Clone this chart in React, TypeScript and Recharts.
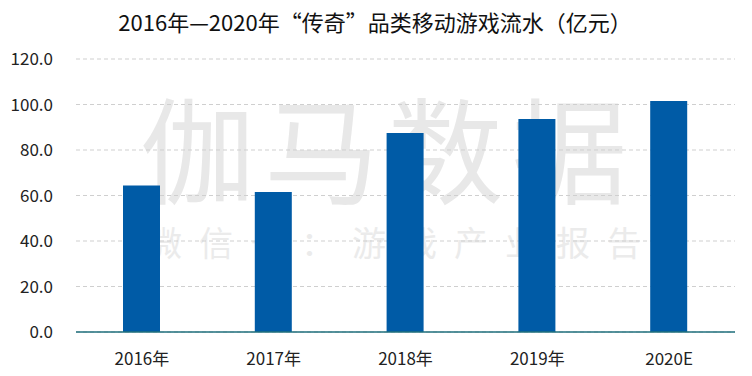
import { Bar, BarChart, CartesianGrid, XAxis, YAxis } from 'recharts';

const years = ['2016年', '2017年', '2018年', '2019年', '2020E'];
const revenue = [64.4, 61.5, 87.5, 93.6, 101.5];
const yTicks = [0, 20, 40, 60, 80, 100, 120];

const data = years.map((year, i) => ({ year, revenue: revenue[i] }));

const FONT = '"Noto Sans CJK SC", "Noto Sans", sans-serif';

export default function App() {
  return (
    <div
      style={{
        position: 'absolute',
        left: 0,
        top: 0,
        width: 752,
        height: 376,
        background: '#fff',
        fontFamily: FONT,
        overflow: 'hidden',
      }}
    >
      {/* watermark */}
      <div
        style={{
          position: 'absolute',
          left: 140,
          top: 88,
          fontSize: 115,
          letterSpacing: 9,
          color: '#e8e8e8',
          lineHeight: 1,
          whiteSpace: 'nowrap',
        }}
      >
        伽马数据
      </div>
      <div
        style={{
          position: 'absolute',
          left: 148,
          top: 225,
          fontSize: 34,
          letterSpacing: 17,
          color: '#ebebeb',
          lineHeight: 1,
          whiteSpace: 'nowrap',
        }}
      >
        微信号：游戏产业报告
      </div>
      <div
        style={{
          position: 'absolute',
          left: 0,
          top: 5,
          width: 750,
          textAlign: 'center',
          fontSize: 22,
          color: '#111',
        }}
      >
        2016年—2020年“传奇”品类移动游戏流水（亿元）
      </div>
      <div style={{ position: 'absolute', left: 0, top: 0 }}>
        <BarChart
          width={752}
          height={376}
          data={data}
          margin={{ top: 59, right: 17, bottom: 12, left: 0 }}
        >
          <CartesianGrid vertical={false} stroke="#cfcfcf" strokeDasharray="4 3" />
          <XAxis
            dataKey="year"
            height={32}
            axisLine={{ stroke: '#1f6f7c', strokeWidth: 1.5 }}
            tickLine={false}
            tickSize={0}
            tickMargin={21}
            tick={{ fontSize: 17, fill: '#222', fontFamily: FONT }}
          />
          <YAxis
            width={76}
            domain={[0, 120]}
            ticks={yTicks}
            axisLine={false}
            tickLine={false}
            tickSize={0}
            tickMargin={23}
            tickFormatter={(v: number) => v.toFixed(1)}
            tick={{ fontSize: 17, fill: '#222', fontFamily: FONT }}
          />
          <Bar dataKey="revenue" fill="#005BA6" barSize={37} isAnimationActive={false} />
        </BarChart>
      </div>
    </div>
  );
}
